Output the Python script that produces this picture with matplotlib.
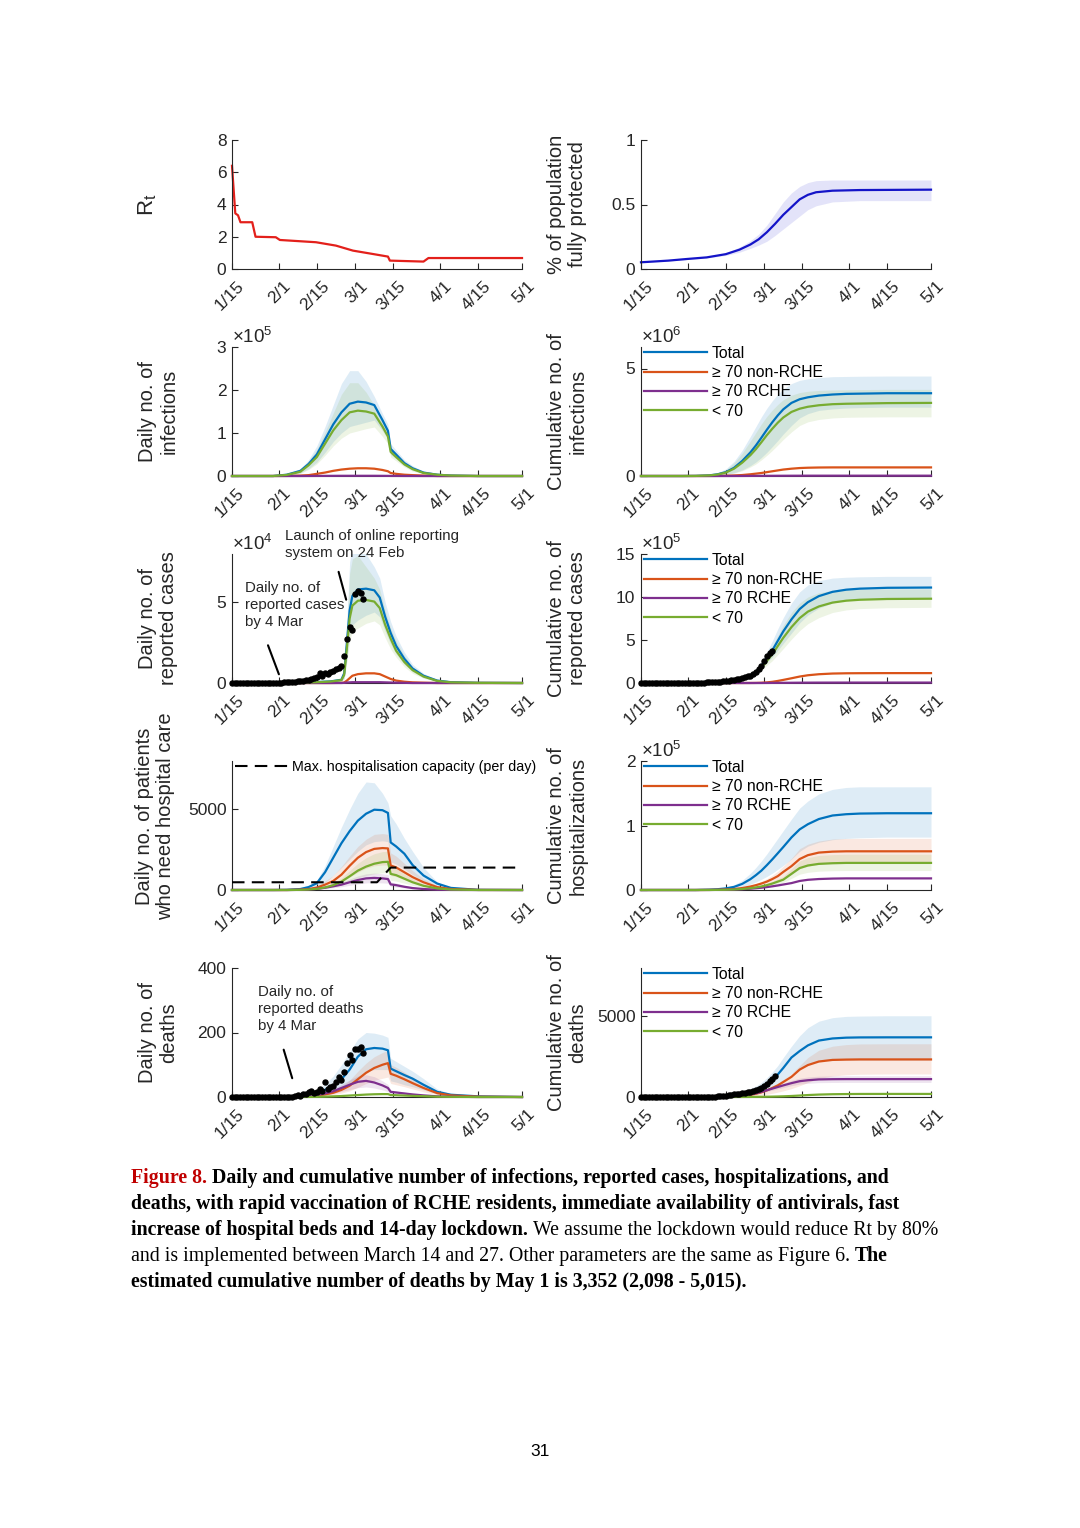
import numpy as np
import matplotlib
matplotlib.use("Agg")
import matplotlib.pyplot as plt
from matplotlib.lines import Line2D
from matplotlib.transforms import ScaledTranslation

plt.rcParams['font.family'] = ['Liberation Sans', 'DejaVu Sans']
plt.rcParams['mathtext.fontset'] = 'custom'
plt.rcParams['mathtext.rm'] = 'Liberation Sans'
plt.rcParams['mathtext.it'] = 'Liberation Sans:italic'

############ data (days counted from 15 Jan)
TICK_DAYS = [0, 17, 31, 45, 59, 76, 90, 106]
TICK_LABELS = ['1/15', '2/1', '2/15', '3/1', '3/15', '4/1', '4/15', '5/1']

# Rt
RT_DAYS = [0, 1.2, 2.2, 3.1, 7.4, 8.6, 16, 17.5, 30.7, 38, 44.2, 51.5, 57, 57.7, 70, 71.8, 106]
RT = [6.4, 3.45, 3.33, 2.9, 2.9, 2.0, 1.97, 1.8, 1.66, 1.45, 1.14, 0.93, 0.77, 0.52, 0.46, 0.68, 0.68]

# share of population fully protected
VAC_DAYS = [0, 10, 17, 24, 31, 36, 40, 43, 46, 49, 52, 55, 58, 61, 64, 70, 80, 106]
VAC = [0.052, 0.065, 0.078, 0.09, 0.115, 0.15, 0.19, 0.23, 0.285, 0.35, 0.42, 0.48, 0.54, 0.575, 0.595, 0.607, 0.612, 0.615]
VAC_HI = [0.055, 0.068, 0.082, 0.095, 0.125, 0.17, 0.22, 0.27, 0.34, 0.43, 0.52, 0.59, 0.64, 0.67, 0.685, 0.69, 0.69, 0.69]
VAC_LO = [0.05, 0.062, 0.074, 0.085, 0.105, 0.13, 0.16, 0.185, 0.215, 0.26, 0.31, 0.36, 0.41, 0.46, 0.49, 0.52, 0.53, 0.53]

# day grid for the daily curves
DAYS = [0, 15, 20, 25, 28, 31, 34, 37, 40, 43, 46, 49, 52, 55, 57, 58, 60, 63, 66, 70, 75, 80, 90, 106]
# day grid for the cumulative curves
CDAYS = [0, 15, 20, 25, 28, 31, 34, 37, 40, 42, 44, 46, 48, 50, 52, 55, 58, 61, 65, 70, 75, 80, 90, 106]

# daily infections (x1e5)
INF_TOTAL = [0, 0, 0.03, 0.12, 0.28, 0.5, 0.85, 1.2, 1.48, 1.68, 1.73, 1.71, 1.65, 1.3, 1.05, 0.63, 0.5, 0.3, 0.18, 0.08, 0.03, 0.01, 0, 0]
INF_OLD = [0, 0, 0.002, 0.01, 0.02, 0.05, 0.08, 0.12, 0.15, 0.17, 0.18, 0.18, 0.17, 0.14, 0.11, 0.07, 0.05, 0.03, 0.02, 0.01, 0, 0, 0, 0]
INF_RCHE = [0, 0, 0, 0, 0.001, 0.002, 0.003, 0.004, 0.005, 0.005, 0.005, 0.005, 0.005, 0.004, 0.003, 0.002, 0.002, 0.001, 0.001, 0, 0, 0, 0, 0]
INF_YOUNG = [0, 0, 0.025, 0.1, 0.25, 0.44, 0.75, 1.06, 1.3, 1.48, 1.52, 1.5, 1.45, 1.15, 0.92, 0.56, 0.44, 0.27, 0.16, 0.07, 0.03, 0.01, 0, 0]
INF_TOTAL_HI = [0, 0, 0.04, 0.17, 0.38, 0.7, 1.15, 1.65, 2.15, 2.45, 2.45, 2.2, 1.85, 1.45, 1.2, 0.75, 0.6, 0.38, 0.24, 0.11, 0.04, 0.015, 0.004, 0]
INF_TOTAL_LO = [0, 0, 0.015, 0.07, 0.17, 0.32, 0.55, 0.8, 1.0, 1.15, 1.2, 1.25, 1.3, 1.05, 0.85, 0.5, 0.4, 0.24, 0.13, 0.06, 0.02, 0.005, 0, 0]
INF_YOUNG_HI = [0, 0, 0.035, 0.15, 0.34, 0.62, 1.02, 1.46, 1.9, 2.17, 2.17, 1.95, 1.64, 1.28, 1.06, 0.66, 0.53, 0.34, 0.21, 0.1, 0.035, 0.013, 0.003, 0]
INF_YOUNG_LO = [0, 0, 0.013, 0.06, 0.15, 0.28, 0.48, 0.7, 0.88, 1.0, 1.05, 1.1, 1.14, 0.92, 0.75, 0.44, 0.35, 0.21, 0.11, 0.05, 0.018, 0.004, 0, 0]

# cumulative infections (x1e6)
CINF_TOTAL = [0, 0, 0.005, 0.03, 0.08, 0.18, 0.38, 0.7, 1.1, 1.42, 1.78, 2.15, 2.5, 2.82, 3.1, 3.4, 3.57, 3.66, 3.74, 3.79, 3.82, 3.83, 3.85, 3.85]
CINF_OLD = [0, 0, 0, 0.002, 0.005, 0.012, 0.025, 0.045, 0.08, 0.11, 0.14, 0.18, 0.22, 0.26, 0.3, 0.34, 0.37, 0.385, 0.395, 0.4, 0.4, 0.4, 0.4, 0.4]
CINF_RCHE = [0, 0, 0, 0, 0, 0.001, 0.002, 0.003, 0.005, 0.006, 0.008, 0.009, 0.01, 0.011, 0.012, 0.013, 0.014, 0.015, 0.015, 0.015, 0.015, 0.015, 0.015, 0.015]
CINF_YOUNG = [0, 0, 0.004, 0.026, 0.07, 0.16, 0.34, 0.62, 0.97, 1.25, 1.57, 1.9, 2.2, 2.48, 2.72, 2.98, 3.13, 3.22, 3.29, 3.34, 3.36, 3.37, 3.39, 3.4]
CINF_TOTAL_HI = [0, 0, 0.01, 0.06, 0.15, 0.33, 0.68, 1.2, 1.85, 2.3, 2.75, 3.15, 3.5, 3.8, 4.05, 4.3, 4.45, 4.52, 4.58, 4.62, 4.63, 4.64, 4.65, 4.65]
CINF_TOTAL_LO = [0, 0, 0.002, 0.012, 0.03, 0.07, 0.15, 0.28, 0.48, 0.65, 0.86, 1.1, 1.37, 1.65, 1.95, 2.35, 2.7, 2.9, 3.05, 3.12, 3.16, 3.18, 3.2, 3.2]
CINF_YOUNG_HI = [0, 0, 0.009, 0.05, 0.13, 0.29, 0.6, 1.06, 1.63, 2.02, 2.42, 2.77, 3.07, 3.33, 3.55, 3.76, 3.88, 3.94, 3.98, 4.0, 4.01, 4.02, 4.03, 4.03]
CINF_YOUNG_LO = [0, 0, 0.002, 0.01, 0.026, 0.06, 0.13, 0.24, 0.42, 0.56, 0.75, 0.96, 1.19, 1.44, 1.7, 2.05, 2.35, 2.52, 2.63, 2.7, 2.73, 2.74, 2.75, 2.75]

# daily reported cases (x1e4)
REP_DAYS = [0, 20, 30, 36, 40, 41, 42, 43, 44, 46, 49, 52, 54, 56, 58, 60, 63, 66, 70, 75, 80, 90, 106]
REP_TOTAL = [0, 0.01, 0.05, 0.1, 0.2, 0.6, 2.5, 4.5, 5.4, 5.8, 5.85, 5.75, 5.3, 4.1, 3.1, 2.3, 1.5, 0.9, 0.45, 0.15, 0.05, 0.01, 0]
REP_OLD = [0, 0, 0, 0, 0.01, 0.03, 0.15, 0.3, 0.45, 0.55, 0.6, 0.6, 0.55, 0.4, 0.25, 0.15, 0.08, 0.04, 0.02, 0, 0, 0, 0]
REP_RCHE = [0, 0, 0, 0, 0, 0.01, 0.03, 0.04, 0.05, 0.05, 0.05, 0.05, 0.05, 0.04, 0.03, 0.02, 0.01, 0, 0, 0, 0, 0, 0]
REP_YOUNG = [0, 0.01, 0.04, 0.09, 0.18, 0.5, 2.2, 4.0, 4.8, 5.1, 5.15, 5.05, 4.65, 3.6, 2.75, 2.0, 1.3, 0.8, 0.4, 0.13, 0.04, 0.01, 0]
REP_TOTAL_HI = [0, 0.02, 0.08, 0.15, 0.3, 1.0, 4.0, 7.5, 8.5, 8.8, 8.0, 7.2, 6.5, 5.0, 3.8, 2.9, 1.9, 1.15, 0.6, 0.2, 0.06, 0.01, 0]
REP_TOTAL_LO = [0, 0, 0.02, 0.05, 0.1, 0.3, 1.5, 3.0, 3.6, 3.9, 4.2, 4.4, 4.1, 3.2, 2.4, 1.8, 1.15, 0.7, 0.33, 0.1, 0.03, 0, 0]
REP_YOUNG_HI = [0, 0.02, 0.07, 0.13, 0.27, 0.9, 3.6, 6.8, 7.7, 7.9, 7.2, 6.5, 5.8, 4.5, 3.4, 2.6, 1.7, 1.0, 0.53, 0.18, 0.05, 0.01, 0]
REP_YOUNG_LO = [0, 0, 0.02, 0.04, 0.09, 0.26, 1.3, 2.6, 3.2, 3.4, 3.7, 3.85, 3.6, 2.8, 2.1, 1.6, 1.0, 0.6, 0.29, 0.09, 0.03, 0, 0]

# reported data up to 4 Mar (day 0 .. 48)
OBS_CASES = [0, 0, 0, 0, 0, 0, 0.01, 0.01, 0.01, 0.01, 0.01,
             0.01, 0.01, 0.02, 0.02, 0.02, 0.02, 0.03, 0.03, 0.04, 0.05,
             0.06, 0.07, 0.08, 0.1, 0.12, 0.13, 0.16, 0.2, 0.25, 0.3, 0.35,
             0.6, 0.45, 0.65, 0.55, 0.7, 0.75, 0.85, 0.95, 1.05, 1.7, 2.7, 3.45, 3.3, 5.5, 5.7, 5.6, 5.2]
OBS_CUM_CASES = [0, 0, 0, 0, 0, 0, 0, 0, 0.001, 0.002, 0.003,
                 0.004, 0.005, 0.007, 0.009, 0.011, 0.013, 0.016, 0.019, 0.023, 0.028,
                 0.034, 0.041, 0.049, 0.059, 0.071, 0.084, 0.1, 0.12, 0.145, 0.175, 0.21,
                 0.27, 0.315, 0.38, 0.435, 0.505, 0.58, 0.665, 0.76, 0.865, 1.035, 1.305, 1.65, 1.98, 2.53, 3.1, 3.5, 3.75]

# cumulative reported cases (x1e5)
CREP_TOTAL = [0, 0, 0.01, 0.05, 0.1, 0.17, 0.3, 0.5, 0.8, 1.3, 2.0, 2.9, 3.8, 4.9, 6.0, 7.4, 8.6, 9.4, 10.1, 10.6, 10.85, 10.97, 11.07, 11.1]
CREP_OLD = [0, 0, 0, 0, 0, 0, 0, 0, 0.005, 0.01, 0.03, 0.07, 0.14, 0.24, 0.36, 0.55, 0.75, 0.9, 1.02, 1.1, 1.13, 1.14, 1.15, 1.15]
CREP_RCHE = [0, 0, 0, 0, 0, 0, 0, 0, 0, 0.002, 0.004, 0.008, 0.013, 0.018, 0.024, 0.03, 0.037, 0.042, 0.046, 0.048, 0.05, 0.05, 0.05, 0.05]
CREP_YOUNG = [0, 0, 0.01, 0.045, 0.09, 0.15, 0.26, 0.44, 0.7, 1.15, 1.75, 2.55, 3.35, 4.3, 5.25, 6.5, 7.55, 8.3, 8.9, 9.35, 9.57, 9.68, 9.77, 9.8]
CREP_TOTAL_HI = [0, 0, 0.01, 0.05, 0.1, 0.17, 0.3, 0.5, 0.85, 1.45, 2.4, 3.6, 4.9, 6.3, 7.6, 9.3, 10.6, 11.4, 11.9, 12.2, 12.3, 12.35, 12.4, 12.4]
CREP_TOTAL_LO = [0, 0, 0.01, 0.05, 0.1, 0.17, 0.3, 0.5, 0.78, 1.2, 1.7, 2.35, 3.0, 3.8, 4.6, 5.8, 7.0, 7.9, 8.7, 9.3, 9.65, 9.8, 9.9, 9.95]
CREP_YOUNG_HI = [0, 0, 0.01, 0.045, 0.09, 0.15, 0.26, 0.44, 0.74, 1.27, 2.1, 3.15, 4.3, 5.5, 6.7, 8.2, 9.3, 10.0, 10.5, 10.75, 10.85, 10.9, 10.95, 10.95]
CREP_YOUNG_LO = [0, 0, 0.01, 0.045, 0.09, 0.15, 0.26, 0.44, 0.68, 1.05, 1.5, 2.05, 2.6, 3.3, 4.0, 5.1, 6.1, 6.9, 7.6, 8.2, 8.5, 8.65, 8.75, 8.8]

# daily patients who need hospital care
HOSP_TOTAL = [0, 0, 10, 60, 180, 420, 1100, 2000, 2900, 3650, 4300, 4730, 4980, 4950, 4780, 2950, 2700, 2250, 1550, 900, 400, 130, 10, 0]
HOSP_OLD = [0, 0, 0, 20, 60, 150, 330, 560, 950, 1500, 2000, 2350, 2550, 2600, 2580, 1520, 1400, 1100, 800, 480, 180, 60, 5, 0]
HOSP_RCHE = [0, 0, 0, 10, 30, 70, 140, 230, 330, 480, 620, 720, 750, 720, 680, 350, 300, 200, 120, 60, 20, 5, 0, 0]
HOSP_YOUNG = [0, 0, 0, 10, 30, 70, 160, 300, 520, 850, 1200, 1450, 1630, 1730, 1750, 1000, 920, 700, 480, 260, 100, 30, 0, 0]
HOSP_TOTAL_HI = [0, 0, 30, 150, 300, 600, 1500, 2700, 3900, 5000, 6000, 6700, 6650, 6000, 5400, 4600, 4100, 3200, 2400, 1400, 500, 150, 15, 0]
HOSP_TOTAL_LO = [0, 0, 0, 20, 60, 150, 450, 900, 1400, 1900, 2400, 2800, 3000, 3050, 3000, 1750, 1600, 1300, 950, 550, 200, 60, 0, 0]
HOSP_OLD_HI = [0, 0, 0, 40, 110, 250, 550, 900, 1450, 2100, 2700, 3150, 3450, 3500, 3450, 2300, 2100, 1650, 1200, 700, 270, 90, 10, 0]
HOSP_OLD_LO = [0, 0, 0, 10, 30, 80, 180, 300, 500, 800, 1100, 1350, 1500, 1550, 1550, 900, 830, 650, 470, 280, 100, 30, 0, 0]
HOSP_RCHE_HI = [0, 0, 0, 14, 42, 100, 200, 330, 470, 680, 870, 1000, 1050, 1010, 950, 500, 430, 290, 175, 90, 30, 8, 0, 0]
HOSP_RCHE_LO = [0, 0, 0, 6, 18, 42, 85, 140, 200, 290, 380, 440, 460, 440, 420, 210, 180, 120, 70, 35, 12, 3, 0, 0]
HOSP_YOUNG_HI = [0, 0, 0, 15, 45, 100, 230, 430, 740, 1200, 1650, 2000, 2250, 2380, 2400, 1450, 1330, 1000, 700, 380, 150, 45, 0, 0]
HOSP_YOUNG_LO = [0, 0, 0, 5, 18, 45, 100, 180, 320, 520, 750, 900, 1000, 1060, 1080, 600, 550, 420, 290, 160, 60, 18, 0, 0]
CAPACITY_DAYS = [0, 53, 58, 106]
CAPACITY = [480, 480, 1390, 1390]

# cumulative hospitalisations (x1e5)
CHOSP_TOTAL = [0, 0, 0, 0.005, 0.012, 0.025, 0.048, 0.095, 0.168, 0.23, 0.3, 0.385, 0.475, 0.57, 0.666, 0.815, 0.94, 1.02, 1.1, 1.155, 1.175, 1.185, 1.19, 1.19]
CHOSP_OLD = [0, 0, 0, 0.001, 0.003, 0.008, 0.015, 0.03, 0.054, 0.075, 0.1, 0.13, 0.17, 0.215, 0.28, 0.37, 0.48, 0.54, 0.58, 0.595, 0.6, 0.6, 0.6, 0.6]
CHOSP_RCHE = [0, 0, 0, 0.001, 0.002, 0.003, 0.006, 0.012, 0.02, 0.027, 0.035, 0.045, 0.057, 0.07, 0.085, 0.107, 0.14, 0.158, 0.17, 0.177, 0.18, 0.18, 0.18, 0.18]
CHOSP_YOUNG = [0, 0, 0, 0.001, 0.002, 0.004, 0.008, 0.015, 0.028, 0.04, 0.055, 0.075, 0.1, 0.13, 0.16, 0.25, 0.34, 0.38, 0.405, 0.415, 0.42, 0.42, 0.42, 0.42]
CHOSP_TOTAL_HI = [0, 0, 0, 0.008, 0.02, 0.04, 0.08, 0.15, 0.26, 0.35, 0.45, 0.56, 0.68, 0.8, 0.92, 1.1, 1.27, 1.38, 1.49, 1.56, 1.59, 1.6, 1.6, 1.6]
CHOSP_TOTAL_LO = [0, 0, 0, 0.003, 0.007, 0.013, 0.025, 0.05, 0.09, 0.125, 0.165, 0.21, 0.26, 0.32, 0.38, 0.48, 0.6, 0.68, 0.74, 0.78, 0.8, 0.81, 0.82, 0.82]
CHOSP_OLD_HI = [0, 0, 0, 0.0015, 0.004, 0.011, 0.02, 0.04, 0.075, 0.1, 0.135, 0.175, 0.23, 0.29, 0.37, 0.49, 0.64, 0.71, 0.76, 0.79, 0.8, 0.8, 0.8, 0.8]
CHOSP_OLD_LO = [0, 0, 0, 0.0005, 0.002, 0.005, 0.01, 0.02, 0.036, 0.05, 0.068, 0.09, 0.115, 0.145, 0.185, 0.25, 0.33, 0.37, 0.4, 0.42, 0.43, 0.43, 0.43, 0.43]
CHOSP_YOUNG_HI = [0, 0, 0, 0.0013, 0.0026, 0.0053, 0.011, 0.02, 0.037, 0.053, 0.073, 0.099, 0.132, 0.172, 0.211, 0.33, 0.449, 0.502, 0.535, 0.548, 0.554, 0.554, 0.554, 0.554]
CHOSP_YOUNG_LO = [0, 0, 0, 0.0007, 0.0014, 0.0029, 0.0058, 0.011, 0.02, 0.029, 0.04, 0.054, 0.072, 0.094, 0.115, 0.18, 0.245, 0.274, 0.292, 0.299, 0.302, 0.302, 0.302, 0.302]

# daily deaths
DEATH_TOTAL = [0, 0, 0, 2, 5, 12, 22, 35, 55, 85, 125, 148, 152, 150, 145, 88, 80, 68, 57, 38, 16, 7, 2, 0]
DEATH_OLD = [0, 0, 0, 0.5, 1.5, 4, 8, 13, 22, 35, 55, 75, 90, 100, 105, 72, 66, 55, 43, 28, 12, 5, 1, 0]
DEATH_RCHE = [0, 0, 0, 1, 2.5, 6, 11, 18, 28, 38, 47, 50, 45, 36, 28, 16, 14, 11, 8, 5, 2, 1, 0, 0]
DEATH_YOUNG = [0, 0, 0, 0, 0.2, 0.5, 1, 2, 3, 4.5, 6, 7.5, 8.5, 9, 9, 6, 5.5, 4.5, 3.5, 2.5, 1, 0.5, 0, 0]
DEATH_TOTAL_HI = [0, 0, 0, 4, 10, 22, 40, 65, 100, 140, 180, 200, 198, 192, 185, 120, 110, 95, 80, 57, 25, 10, 3, 0]
DEATH_TOTAL_LO = [0, 0, 0, 1, 2, 5, 9, 15, 25, 40, 60, 80, 85, 85, 85, 50, 46, 38, 32, 22, 9, 4, 1, 0]
DEATH_OLD_HI = [0, 0, 0, 1, 2.5, 6, 12, 20, 33, 52, 80, 105, 125, 138, 145, 100, 92, 77, 60, 40, 17, 7, 1.5, 0]
DEATH_OLD_LO = [0, 0, 0, 0.3, 0.8, 2, 4, 7, 12, 19, 30, 42, 52, 58, 62, 42, 38, 32, 25, 16, 7, 3, 0.5, 0]
DEATH_RCHE_HI = [0, 0, 0, 1.5, 3.5, 8.5, 15, 25, 39, 53, 65, 69, 63, 50, 39, 22, 19, 15, 11, 7, 3, 1.5, 0, 0]
DEATH_RCHE_LO = [0, 0, 0, 0.6, 1.5, 3.5, 6.5, 11, 17, 23, 29, 31, 28, 22, 17, 10, 8.5, 6.5, 5, 3, 1.2, 0.6, 0, 0]
OBS_DEATHS = [0, 0, 0, 0, 0, 0, 0, 0, 0, 0, 0, 0, 0, 0, 0, 0, 0, 0, 0, 0, 0, 0, 0,
              2, 5, 3, 8, 10, 15, 18, 12, 15, 26, 20, 48, 25, 30, 35, 45, 62, 52,
              78, 106, 129, 114, 148, 150, 156, 137]

# cumulative deaths
CD_TOTAL = [0, 0, 0, 10, 30, 70, 150, 240, 330, 430, 580, 800, 1080, 1400, 1800, 2450, 2850, 3200, 3500, 3630, 3680, 3695, 3700, 3700]
CD_OLD = [0, 0, 0, 2, 6, 15, 35, 70, 130, 200, 290, 410, 560, 720, 930, 1250, 1700, 1980, 2200, 2300, 2320, 2330, 2330, 2330]
CD_RCHE = [0, 0, 0, 3, 9, 20, 45, 80, 160, 230, 320, 420, 520, 620, 720, 860, 980, 1040, 1090, 1105, 1110, 1110, 1110, 1110]
CD_YOUNG = [0, 0, 0, 0, 0, 1, 2, 4, 6, 9, 13, 18, 24, 32, 42, 62, 90, 120, 150, 172, 182, 188, 190, 190]
CD_TOTAL_HI = [0, 0, 0, 15, 45, 105, 220, 360, 520, 680, 900, 1200, 1550, 1950, 2450, 3150, 3800, 4300, 4700, 4920, 5000, 5020, 5040, 5040]
CD_TOTAL_LO = [0, 0, 0, 5, 15, 35, 80, 130, 180, 240, 320, 440, 600, 800, 1050, 1450, 1800, 2050, 2230, 2290, 2300, 2300, 2300, 2300]
CD_OLD_HI = [0, 0, 0, 4, 10, 25, 55, 110, 190, 270, 370, 500, 660, 850, 1080, 1450, 1950, 2450, 2900, 3150, 3250, 3290, 3300, 3300]
CD_OLD_LO = [0, 0, 0, 1, 3, 8, 18, 35, 60, 85, 120, 170, 230, 300, 380, 520, 700, 900, 1150, 1300, 1380, 1410, 1430, 1430]
CD_RCHE_HI = [0, 0, 0, 4, 11, 24, 54, 96, 190, 275, 380, 500, 620, 740, 860, 1030, 1170, 1240, 1290, 1310, 1320, 1320, 1320, 1320]
CD_RCHE_LO = [0, 0, 0, 2, 7, 16, 36, 64, 130, 185, 260, 340, 420, 500, 580, 700, 800, 850, 890, 900, 905, 905, 905, 905]
OBS_CUM_DEATHS = [0, 0, 0, 0, 0, 0, 0, 0, 0, 0, 0, 0, 0, 0, 0, 0, 0, 0, 0, 0, 0, 0, 0,
                  2, 7, 10, 18, 28, 43, 61, 73, 88, 114, 134, 160, 185, 200, 225, 255, 290, 330,
                  380, 440, 500, 580, 700, 830, 980, 1130, 1300]

LEGEND_LABELS = ['Total', '\u2265 70 non-RCHE', '\u2265 70 RCHE', '< 70']

############ styling
W, H = 1080, 1528
C_TOTAL, C_OLD, C_RCHE, C_YOUNG = '#0072BD', '#D95319', '#7E2F8E', '#77AC30'
AX_COL = '#262626'
LW = 1.6

fig = plt.figure(figsize=(W / 100, H / 100), dpi=100)
# shift for the rotated date labels (MATLAB puts them a bit right of the tick)
label_shift = ScaledTranslation(0.10, -0.02, fig.dpi_scale_trans)


def make_ax(col, row):
    x0 = [232, 641][col]
    yb = [269, 476, 683, 890, 1097][row]
    return fig.add_axes([x0 / W, 1 - yb / H, 290 / W, 129 / H])


def style(ax, ylim, yticks, yticklabels, ylabel, lx=-0.255, ly=0.5, lsize=14.5, mult=None):
    ax.set_xlim(0, 106)
    ax.set_ylim(*ylim)
    ax.set_xticks(TICK_DAYS)
    ax.set_xticklabels(TICK_LABELS, rotation=45, ha='right', va='center', rotation_mode='anchor')
    ax.set_yticks(yticks)
    ax.set_yticklabels(yticklabels)
    for s in ['top', 'right']:
        ax.spines[s].set_visible(False)
    for s in ['left', 'bottom']:
        ax.spines[s].set_color(AX_COL)
        ax.spines[s].set_linewidth(0.8)
    ax.tick_params(direction='in', length=4, width=0.8, colors=AX_COL, labelsize=12.5)
    ax.tick_params(axis='x', pad=9)
    ax.tick_params(axis='y', pad=4)
    for lbl in ax.get_xticklabels():
        lbl.set_transform(lbl.get_transform() + label_shift)
    ax.set_ylabel(ylabel, fontsize=lsize, color=AX_COL, linespacing=1.15)
    ax.yaxis.label.set_va('center')
    ax.yaxis.set_label_coords(lx, ly)
    ax.patch.set_alpha(0)
    if mult is not None:
        ax.text(0, 1.0, r'$\times\mathregular{10^{%d}}$' % mult, transform=ax.transAxes,
                fontsize=13.5, color=AX_COL, ha='left', va='bottom')


def draw_bands(ax, days, bands):
    for lo, hi, c in bands:
        ax.fill_between(days, lo, hi, color=c, alpha=0.13, lw=0, zorder=1)


def draw_lines(ax, days, series):
    for vals, c in series:
        ax.plot(days, vals, color=c, lw=LW, zorder=3, clip_on=False)


def group_legend(ax):
    handles = [Line2D([], [], color=c, lw=LW) for c in (C_TOTAL, C_OLD, C_RCHE, C_YOUNG)]
    ax.legend(handles, LEGEND_LABELS, loc='upper left', bbox_to_anchor=(0.0, 1.035), frameon=False,
              fontsize=11.3, handlelength=4.0, handletextpad=0.3, labelspacing=0.28, borderaxespad=0,
              borderpad=0.2)


def dots(ax, vals):
    ax.plot(np.arange(len(vals)), vals, 'o', ms=3.6, color='k', zorder=5, clip_on=False)


NOTE = dict(fontsize=10.8, color=AX_COL, ha='left', va='top', linespacing=1.3)

# row 1 left: Rt
ax = make_ax(0, 0)
ax.plot(RT_DAYS, RT, color='#e3201b', lw=LW, clip_on=False)
style(ax, (0, 8), [0, 2, 4, 6, 8], ['0', '2', '4', '6', '8'], r'$\mathregular{R_t}$', lx=-0.29, lsize=16)

# row 1 right: vaccination
ax = make_ax(1, 0)
ax.fill_between(VAC_DAYS, VAC_LO, VAC_HI, color='#2020d0', alpha=0.12, lw=0)
ax.plot(VAC_DAYS, VAC, color='#1414c8', lw=LW, clip_on=False)
style(ax, (0, 1), [0, 0.5, 1], ['0', '0.5', '1'], '% of population\nfully protected')

# row 2 left: daily infections
ax = make_ax(0, 1)
draw_bands(ax, DAYS, [(INF_TOTAL_LO, INF_TOTAL_HI, C_TOTAL), (INF_YOUNG_LO, INF_YOUNG_HI, C_YOUNG)])
draw_lines(ax, DAYS, [(INF_TOTAL, C_TOTAL), (INF_OLD, C_OLD), (INF_RCHE, C_RCHE), (INF_YOUNG, C_YOUNG)])
style(ax, (0, 3), [0, 1, 2, 3], ['0', '1', '2', '3'], 'Daily no. of\ninfections', mult=5)

# row 2 right: cumulative infections
ax = make_ax(1, 1)
draw_bands(ax, CDAYS, [(CINF_TOTAL_LO, CINF_TOTAL_HI, C_TOTAL), (CINF_YOUNG_LO, CINF_YOUNG_HI, C_YOUNG)])
draw_lines(ax, CDAYS, [(CINF_TOTAL, C_TOTAL), (CINF_OLD, C_OLD), (CINF_RCHE, C_RCHE), (CINF_YOUNG, C_YOUNG)])
style(ax, (0, 6), [0, 5], ['0', '5'], 'Cumulative no. of\ninfections', mult=6)
group_legend(ax)

# row 3 left: daily reported cases
ax = make_ax(0, 2)
draw_bands(ax, REP_DAYS, [(REP_TOTAL_LO, REP_TOTAL_HI, C_TOTAL), (REP_YOUNG_LO, REP_YOUNG_HI, C_YOUNG)])
draw_lines(ax, REP_DAYS, [(REP_TOTAL, C_TOTAL), (REP_OLD, C_OLD), (REP_RCHE, C_RCHE), (REP_YOUNG, C_YOUNG)])
dots(ax, OBS_CASES)
style(ax, (0, 8), [0, 5], ['0', '5'], 'Daily no. of\nreported cases', mult=4)
ax.text(19.4, 9.55, 'Launch of online reporting\nsystem on 24 Feb', clip_on=False, **NOTE)
ax.annotate('', xy=(42.0, 5.0), xytext=(38.7, 7.06), arrowprops=dict(arrowstyle='-', lw=1.5, color='k'))
ax.text(4.75, 6.35, 'Daily no. of\nreported cases\nby 4 Mar', **NOTE)
ax.annotate('', xy=(17.5, 0.38), xytext=(12.8, 2.5), arrowprops=dict(arrowstyle='-', lw=1.5, color='k'))

# row 3 right: cumulative reported cases
ax = make_ax(1, 2)
draw_bands(ax, CDAYS, [(CREP_TOTAL_LO, CREP_TOTAL_HI, C_TOTAL), (CREP_YOUNG_LO, CREP_YOUNG_HI, C_YOUNG)])
draw_lines(ax, CDAYS, [(CREP_TOTAL, C_TOTAL), (CREP_OLD, C_OLD), (CREP_RCHE, C_RCHE), (CREP_YOUNG, C_YOUNG)])
dots(ax, OBS_CUM_CASES)
style(ax, (0, 15), [0, 5, 10, 15], ['0', '5', '10', '15'], 'Cumulative no. of\nreported cases', mult=5)
group_legend(ax)

# row 4 left: daily hospital demand
ax = make_ax(0, 3)
draw_bands(ax, DAYS, [(HOSP_TOTAL_LO, HOSP_TOTAL_HI, C_TOTAL), (HOSP_OLD_LO, HOSP_OLD_HI, C_OLD),
                      (HOSP_RCHE_LO, HOSP_RCHE_HI, C_RCHE), (HOSP_YOUNG_LO, HOSP_YOUNG_HI, C_YOUNG)])
draw_lines(ax, DAYS, [(HOSP_TOTAL, C_TOTAL), (HOSP_OLD, C_OLD), (HOSP_RCHE, C_RCHE), (HOSP_YOUNG, C_YOUNG)])
cap, = ax.plot(CAPACITY_DAYS, CAPACITY, color='k', lw=1.5, ls=(0, (6, 3.5)), zorder=4)
style(ax, (0, 8000), [0, 5000], ['0', '5000'], 'Daily no. of patients\nwho need hospital care',
      lx=-0.266, ly=0.57)
ax.legend([cap], ['Max. hospitalisation capacity (per day)'], loc='upper left', bbox_to_anchor=(0.0, 1.03),
          frameon=False, fontsize=10.3, handlelength=3.7, handletextpad=0.3, borderaxespad=0, borderpad=0.2)

# row 4 right: cumulative hospitalisations
ax = make_ax(1, 3)
draw_bands(ax, CDAYS, [(CHOSP_TOTAL_LO, CHOSP_TOTAL_HI, C_TOTAL), (CHOSP_OLD_LO, CHOSP_OLD_HI, C_OLD),
                       (CHOSP_YOUNG_LO, CHOSP_YOUNG_HI, C_YOUNG)])
draw_lines(ax, CDAYS, [(CHOSP_TOTAL, C_TOTAL), (CHOSP_OLD, C_OLD), (CHOSP_RCHE, C_RCHE), (CHOSP_YOUNG, C_YOUNG)])
style(ax, (0, 2), [0, 1, 2], ['0', '1', '2'], 'Cumulative no. of\nhospitalizations', mult=5)
group_legend(ax)

# row 5 left: daily deaths
ax = make_ax(0, 4)
draw_bands(ax, DAYS, [(DEATH_TOTAL_LO, DEATH_TOTAL_HI, C_TOTAL), (DEATH_OLD_LO, DEATH_OLD_HI, C_OLD),
                      (DEATH_RCHE_LO, DEATH_RCHE_HI, C_RCHE)])
draw_lines(ax, DAYS, [(DEATH_TOTAL, C_TOTAL), (DEATH_OLD, C_OLD), (DEATH_RCHE, C_RCHE), (DEATH_YOUNG, C_YOUNG)])
dots(ax, OBS_DEATHS)
style(ax, (0, 400), [0, 200, 400], ['0', '200', '400'], 'Daily no. of\ndeaths')
ax.text(9.5, 348, 'Daily no. of\nreported deaths\nby 4 Mar', **NOTE)
ax.annotate('', xy=(22.3, 50), xytext=(18.6, 155), arrowprops=dict(arrowstyle='-', lw=1.5, color='k'))

# row 5 right: cumulative deaths
ax = make_ax(1, 4)
draw_bands(ax, CDAYS, [(CD_TOTAL_LO, CD_TOTAL_HI, C_TOTAL), (CD_OLD_LO, CD_OLD_HI, C_OLD),
                       (CD_RCHE_LO, CD_RCHE_HI, C_RCHE)])
draw_lines(ax, CDAYS, [(CD_TOTAL, C_TOTAL), (CD_OLD, C_OLD), (CD_RCHE, C_RCHE), (CD_YOUNG, C_YOUNG)])
dots(ax, OBS_CUM_DEATHS)
style(ax, (0, 8000), [0, 5000], ['0', '5000'], 'Cumulative no. of\ndeaths')
group_legend(ax)

############ caption
CAP_SIZE = 14.35
renderer = fig.canvas.get_renderer()
space_px = 0.25 * CAP_SIZE * 100 / 72
caption = [
    (1183, [('Figure 8.', True, '#C00000'),
            ('Daily and cumulative number of infections, reported cases, hospitalizations, and', True, 'k')]),
    (1209, [('deaths, with rapid vaccination of RCHE residents, immediate availability of antivirals, fast', True, 'k')]),
    (1235, [('increase of hospital beds and 14-day lockdown.', True, 'k'),
            ('We assume the lockdown would reduce Rt by 80%', False, 'k')]),
    (1261, [('and is implemented between March 14 and 27. Other parameters are the same as Figure 6.', False, 'k'),
            ('The', True, 'k')]),
    (1287, [('estimated cumulative number of deaths by May 1 is 3,352 (2,098 - 5,015).', True, 'k')]),
]
for y_px, runs in caption:
    x_px = 131
    for txt, bold, col in runs:
        t = fig.text(x_px / W, 1 - y_px / H, txt, fontsize=CAP_SIZE, family=['Liberation Serif', 'DejaVu Serif'],
                     weight='bold' if bold else 'normal', color=col, ha='left', va='baseline')
        x_px += t.get_window_extent(renderer).width + space_px

fig.text(540 / W, 1 - 1456 / H, '31', fontsize=12.5, ha='center', va='baseline', color='k')

fig.savefig('out.png', dpi=100)
